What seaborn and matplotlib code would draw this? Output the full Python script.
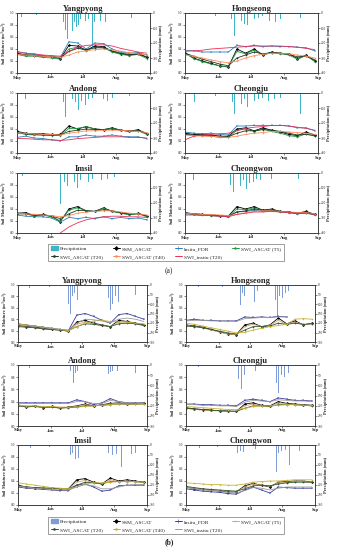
import numpy as np
import pandas as pd
import matplotlib
matplotlib.use("Agg")
import matplotlib.pyplot as plt
from matplotlib.lines import Line2D
from matplotlib.patches import Patch
import seaborn as sns

nan = np.nan
STATIONS = ["Yangpyong", "Hongseong", "Andong", "Cheongju", "Imsil", "Cheongwon"]
DAYS = [0, 8, 16, 24, 32, 40, 48, 56, 64, 72, 80, 88, 96, 104, 112, 120]
MONTH_DAYS = [0, 31, 61, 92, 123]
MONTH_LABELS = ["May", "Jun", "Jul", "Aug", "Sep"]
SERIES = ["SSM_ASCAT", "Insitu_FDR", "SWI_ASCAT (T5)", "SWI_ASCAT (T20)", "SWI_ASCAT (T40)", "SWI_insitu (T20)"]

# ---------------- panel (a) ----------------
A_SSM = {
    "Yangpyong": [0.33, 0.30, 0.30, 0.28, 0.27, 0.24, 0.46, 0.45, 0.38, 0.45, 0.44, 0.36, 0.32, 0.30, 0.33, 0.26],
    "Hongseong": [0.34, 0.25, 0.20, 0.16, 0.12, 0.10, 0.40, 0.33, 0.40, 0.30, 0.35, 0.33, 0.32, 0.24, 0.30, 0.20],
    "Andong":    [0.36, 0.33, 0.32, 0.32, 0.31, 0.31, 0.45, 0.40, 0.44, 0.40, 0.39, 0.42, 0.38, 0.36, 0.39, 0.32],
    "Cheongju":  [0.33, 0.31, 0.31, 0.30, 0.28, 0.28, 0.40, 0.42, 0.37, 0.42, 0.38, 0.35, 0.31, 0.29, 0.35, 0.30],
    "Imsil":     [0.33, 0.34, 0.29, 0.31, 0.28, 0.19, 0.40, 0.44, 0.37, 0.36, 0.42, 0.36, 0.34, 0.31, 0.33, 0.28],
    "Cheongwon": [0.34, 0.32, 0.31, 0.30, 0.29, 0.28, 0.44, 0.40, 0.44, 0.38, 0.40, 0.36, 0.35, 0.33, 0.36, 0.31],
}
A_FDR = {
    "Yangpyong": [0.36, 0.33, 0.31, 0.29, 0.28, 0.26, 0.52, 0.50, 0.40, 0.50, 0.49, 0.40, 0.35, 0.33, 0.34, 0.30],
    "Hongseong": [0.38, 0.37, 0.35, 0.35, 0.35, 0.35, 0.46, 0.44, 0.46, 0.44, 0.45, 0.44, 0.44, 0.43, 0.42, 0.37],
    "Andong":    [0.26, 0.28, 0.25, 0.24, 0.22, 0.20, 0.27, 0.27, 0.30, 0.28, 0.28, 0.30, 0.28, 0.27, 0.27, 0.24],
    "Cheongju":  [0.35, 0.33, 0.32, 0.33, 0.31, 0.30, 0.45, 0.45, 0.46, 0.46, 0.46, 0.46, 0.45, 0.42, 0.42, 0.37],
    "Imsil":     [0.30, 0.28, 0.27, 0.27, 0.25, 0.18, 0.26, 0.24, 0.26, 0.24, 0.27, 0.24, 0.26, 0.24, 0.25, 0.22],
    "Cheongwon": [0.32, 0.31, 0.30, 0.29, 0.28, 0.27, 0.35, 0.36, 0.38, 0.36, 0.37, 0.35, 0.34, 0.32, 0.33, 0.30],
}
A_T5 = {
    "Yangpyong": [0.31, 0.28, 0.28, 0.26, 0.25, 0.23, 0.40, 0.43, 0.37, 0.43, 0.42, 0.35, 0.31, 0.29, 0.31, 0.24],
    "Hongseong": [0.33, 0.24, 0.19, 0.15, 0.12, 0.10, 0.36, 0.32, 0.38, 0.30, 0.34, 0.32, 0.30, 0.23, 0.29, 0.19],
    "Andong":    [0.34, 0.31, 0.30, 0.30, 0.29, 0.29, 0.41, 0.41, 0.44, 0.40, 0.39, 0.41, 0.38, 0.36, 0.37, 0.31],
    "Cheongju":  [0.31, 0.29, 0.29, 0.28, 0.26, 0.26, 0.38, 0.40, 0.36, 0.40, 0.36, 0.33, 0.29, 0.27, 0.32, 0.28],
    "Imsil":     [0.32, 0.32, 0.28, 0.30, 0.27, 0.20, 0.38, 0.42, 0.37, 0.36, 0.41, 0.36, 0.33, 0.30, 0.32, 0.27],
    "Cheongwon": [0.33, 0.31, 0.30, 0.29, 0.28, 0.27, 0.40, 0.39, 0.42, 0.37, 0.39, 0.35, 0.34, 0.32, 0.35, 0.30],
}
A_T20 = {
    "Yangpyong": [0.32, 0.30, 0.29, 0.28, 0.27, 0.25, 0.36, 0.41, 0.39, 0.42, 0.42, 0.37, 0.33, 0.31, 0.31, 0.27],
    "Hongseong": [0.33, 0.28, 0.23, 0.19, 0.15, 0.12, 0.25, 0.30, 0.35, 0.32, 0.34, 0.33, 0.31, 0.27, 0.28, 0.22],
    "Andong":    [0.33, 0.32, 0.31, 0.30, 0.30, 0.30, 0.36, 0.38, 0.40, 0.39, 0.39, 0.40, 0.38, 0.37, 0.37, 0.33],
    "Cheongju":  [0.31, 0.30, 0.30, 0.29, 0.28, 0.27, 0.33, 0.37, 0.37, 0.39, 0.38, 0.36, 0.33, 0.30, 0.31, 0.29],
    "Imsil":     [0.32, 0.32, 0.30, 0.30, 0.28, 0.24, 0.32, 0.38, 0.37, 0.36, 0.39, 0.37, 0.34, 0.32, 0.32, 0.29],
    "Cheongwon": [0.33, 0.32, 0.31, 0.30, 0.29, 0.28, 0.35, 0.37, 0.40, 0.38, 0.38, 0.36, 0.35, 0.33, 0.34, 0.31],
}
A_T40 = {
    "Yangpyong": [0.31, 0.30, 0.29, 0.28, 0.27, 0.26, 0.30, 0.35, 0.37, 0.39, 0.40, 0.39, 0.36, 0.34, 0.32, 0.30],
    "Hongseong": [0.30, 0.28, 0.25, 0.22, 0.19, 0.17, 0.20, 0.25, 0.29, 0.31, 0.33, 0.33, 0.32, 0.30, 0.28, 0.25],
    "Andong":    [0.33, 0.33, 0.32, 0.31, 0.31, 0.30, 0.33, 0.35, 0.37, 0.37, 0.38, 0.38, 0.38, 0.37, 0.36, 0.34],
    "Cheongju":  [0.30, 0.29, 0.28, 0.28, 0.27, 0.26, 0.28, 0.31, 0.33, 0.34, 0.36, 0.36, 0.35, 0.34, 0.33, 0.31],
    "Imsil":     [0.33, 0.32, 0.31, 0.30, 0.29, 0.27, 0.29, 0.33, 0.35, 0.36, 0.37, 0.37, 0.35, 0.33, 0.32, 0.30],
    "Cheongwon": [0.33, 0.32, 0.31, 0.31, 0.30, 0.29, 0.31, 0.34, 0.36, 0.37, 0.37, 0.36, 0.35, 0.34, 0.34, 0.32],
}
A_INSITU = {
    "Yangpyong": [0.34, 0.33, 0.32, 0.30, 0.29, 0.28, 0.36, 0.43, 0.46, 0.47, 0.47, 0.45, 0.41, 0.38, 0.35, 0.33],
    "Hongseong": [0.36, 0.37, 0.38, 0.40, 0.41, 0.42, 0.43, 0.44, 0.45, 0.45, 0.45, 0.45, 0.44, 0.43, 0.41, 0.39],
    "Andong":    [0.24, 0.24, 0.23, 0.22, 0.22, 0.21, 0.22, 0.24, 0.25, 0.26, 0.27, 0.27, 0.27, 0.26, 0.26, 0.25],
    "Cheongju":  [0.22, 0.28, 0.30, 0.31, 0.32, 0.33, 0.37, 0.41, 0.43, 0.44, 0.46, 0.46, 0.45, 0.43, 0.41, 0.38],
    "Imsil":     [nan, nan, nan, nan, nan, 0.00, 0.10, 0.17, 0.22, 0.25, 0.27, 0.28, 0.28, 0.27, 0.27, 0.26],
    "Cheongwon": [0.30, 0.30, 0.29, 0.29, 0.28, 0.27, 0.31, 0.33, 0.35, 0.35, 0.36, 0.35, 0.34, 0.33, 0.33, 0.31],
}
A_RAIN_DAY = {
    "Yangpyong": [4, 18, 43, 45, 47, 49, 51, 53, 55, 57, 59, 61, 63, 66, 70, 72, 74, 77, 82, 85, 106, 112],
    "Hongseong": [11, 28, 43, 46, 49, 52, 55, 58, 61, 64, 68, 72, 78, 84, 88, 107],
    "Andong":    [8, 25, 43, 45, 48, 51, 54, 57, 60, 63, 66, 70, 75, 80, 84, 88, 104],
    "Cheongju":  [9, 28, 44, 46, 49, 52, 55, 58, 61, 64, 68, 72, 77, 83, 88, 107],
    "Imsil":     [5, 13, 40, 44, 47, 50, 53, 56, 59, 62, 66, 70, 74, 78, 84, 90],
    "Cheongwon": [8, 26, 42, 45, 48, 51, 54, 57, 60, 63, 66, 70, 75, 80, 86, 105],
}
A_RAIN_MM = {
    "Yangpyong": [25, 10, 60, 110, 170, 90, 120, 60, 95, 80, 40, 70, 50, 40, 227, 60, 80, 50, 60, 40, 35, 20],
    "Hongseong": [75, 20, 40, 150, 60, 50, 70, 80, 60, 40, 30, 20, 50, 60, 40, 30],
    "Andong":    [40, 20, 60, 160, 70, 40, 60, 110, 50, 80, 40, 30, 60, 40, 50, 30, 20],
    "Cheongju":  [60, 20, 60, 140, 50, 70, 40, 90, 60, 50, 40, 30, 50, 40, 30, 140],
    "Imsil":     [20, 30, 210, 60, 90, 120, 60, 100, 50, 80, 60, 40, 180, 50, 40, 30],
    "Cheongwon": [50, 20, 80, 130, 60, 90, 50, 110, 70, 60, 40, 50, 70, 40, 30, 40],
}

# ---------------- panel (b) ----------------
B_SSM = {
    "Yangpyong": [0.29, 0.27, 0.26, 0.24, 0.22, 0.21, 0.19, 0.35, 0.38, 0.33, 0.30, 0.27, 0.38, 0.36, 0.33, 0.30],
    "Hongseong": [0.30, 0.28, 0.26, 0.22, 0.18, 0.14, 0.13, 0.30, 0.33, 0.27, 0.30, 0.42, 0.32, 0.37, 0.30, 0.33],
    "Andong":    [0.34, 0.31, 0.33, 0.30, 0.32, 0.29, 0.31, 0.33, 0.36, 0.33, 0.35, 0.37, 0.38, 0.36, 0.37, 0.38],
    "Cheongju":  [0.30, 0.28, 0.27, 0.26, 0.25, 0.24, 0.24, 0.36, 0.38, 0.34, 0.33, 0.40, 0.37, 0.36, 0.35, 0.34],
    "Imsil":     [0.33, 0.30, 0.29, 0.28, 0.28, 0.27, 0.27, 0.42, 0.44, 0.38, 0.35, 0.45, 0.40, 0.42, 0.40, 0.38],
    "Cheongwon": [0.30, 0.27, 0.26, 0.25, 0.23, 0.22, 0.22, 0.32, 0.36, 0.33, 0.30, 0.38, 0.39, 0.40, 0.40, 0.38],
}
B_FDR = {
    "Yangpyong": [0.32, 0.30, 0.28, 0.26, 0.24, 0.22, 0.20, 0.47, 0.50, 0.45, 0.38, 0.33, 0.48, 0.50, 0.45, 0.40],
    "Hongseong": [0.38, 0.40, 0.38, 0.38, 0.37, 0.37, 0.37, 0.44, 0.43, 0.44, 0.43, 0.45, 0.44, nan, nan, nan],
    "Andong":    [0.38, 0.38, 0.38, 0.38, 0.38, 0.38, 0.38, 0.43, 0.40, 0.35, 0.38, 0.45, 0.40, 0.38, 0.38, 0.37],
    "Cheongju":  [0.36, 0.36, 0.35, 0.35, 0.34, 0.34, 0.33, 0.42, 0.44, 0.42, 0.40, 0.46, 0.44, 0.42, 0.42, 0.41],
    "Imsil":     [0.30, 0.28, 0.27, 0.26, 0.25, 0.24, 0.24, 0.33, 0.35, 0.30, 0.23, 0.25, 0.32, 0.33, 0.33, 0.33],
    "Cheongwon": [0.27, 0.25, 0.23, 0.22, 0.21, 0.19, 0.18, 0.25, 0.30, 0.25, 0.20, 0.30, 0.29, 0.28, 0.28, 0.28],
}
B_T5 = {
    "Yangpyong": [0.28, 0.26, 0.25, 0.23, 0.22, 0.21, 0.19, 0.31, 0.35, 0.32, 0.29, 0.27, 0.35, 0.35, 0.32, 0.29],
    "Hongseong": [0.29, 0.27, 0.25, 0.21, 0.17, 0.14, 0.13, 0.27, 0.31, 0.27, 0.29, 0.38, 0.31, 0.35, 0.30, 0.32],
    "Andong":    [0.33, 0.31, 0.32, 0.30, 0.31, 0.29, 0.30, 0.32, 0.35, 0.33, 0.34, 0.36, 0.37, 0.36, 0.36, 0.37],
    "Cheongju":  [0.29, 0.27, 0.26, 0.25, 0.25, 0.24, 0.24, 0.33, 0.36, 0.33, 0.32, 0.38, 0.36, 0.35, 0.34, 0.33],
    "Imsil":     [0.32, 0.29, 0.28, 0.28, 0.27, 0.27, 0.27, 0.38, 0.41, 0.37, 0.35, 0.42, 0.39, 0.40, 0.39, 0.37],
    "Cheongwon": [0.30, 0.28, 0.26, 0.25, 0.24, 0.23, 0.22, 0.30, 0.35, 0.33, 0.31, 0.37, 0.38, 0.39, 0.39, 0.38],
}
B_T20 = {
    "Yangpyong": [0.27, 0.26, 0.25, 0.23, 0.22, 0.21, 0.20, 0.27, 0.32, 0.31, 0.29, 0.27, 0.32, 0.33, 0.32, 0.29],
    "Hongseong": [0.28, 0.27, 0.25, 0.22, 0.19, 0.16, 0.14, 0.21, 0.27, 0.27, 0.28, 0.33, 0.31, 0.33, 0.31, 0.32],
    "Andong":    [0.33, 0.32, 0.32, 0.31, 0.31, 0.30, 0.30, 0.31, 0.33, 0.33, 0.34, 0.35, 0.36, 0.36, 0.36, 0.36],
    "Cheongju":  [0.29, 0.28, 0.27, 0.26, 0.25, 0.25, 0.24, 0.29, 0.33, 0.33, 0.32, 0.35, 0.35, 0.35, 0.34, 0.33],
    "Imsil":     [0.32, 0.30, 0.29, 0.28, 0.28, 0.27, 0.27, 0.33, 0.38, 0.37, 0.35, 0.39, 0.39, 0.39, 0.39, 0.38],
    "Cheongwon": [0.31, 0.29, 0.27, 0.26, 0.25, 0.24, 0.23, 0.27, 0.32, 0.33, 0.32, 0.35, 0.37, 0.38, 0.38, 0.38],
}
B_T40 = {
    "Yangpyong": [0.31, 0.30, 0.28, 0.26, 0.24, 0.22, 0.20, 0.27, 0.33, 0.37, 0.38, 0.36, 0.35, 0.35, 0.33, 0.32],
    "Hongseong": [0.33, 0.31, 0.28, 0.25, 0.22, 0.19, 0.16, 0.17, 0.21, 0.24, 0.27, 0.29, 0.31, 0.40, 0.41, 0.40],
    "Andong":    [0.34, 0.33, 0.33, 0.32, 0.32, 0.31, 0.31, 0.31, 0.32, 0.33, 0.34, 0.35, 0.36, 0.36, 0.36, 0.36],
    "Cheongju":  [0.32, 0.31, 0.30, 0.29, 0.28, 0.27, 0.27, 0.29, 0.32, 0.33, 0.33, 0.34, 0.35, 0.35, 0.34, 0.34],
    "Imsil":     [0.37, 0.35, 0.33, 0.31, 0.29, 0.28, 0.27, 0.30, 0.35, 0.37, 0.37, 0.38, 0.39, 0.39, 0.39, 0.38],
    "Cheongwon": [0.37, 0.36, 0.35, 0.34, 0.34, 0.33, 0.33, 0.35, 0.38, 0.39, 0.40, 0.40, 0.41, 0.42, 0.42, 0.42],
}
B_INSITU = {
    "Yangpyong": [0.30, 0.29, 0.28, 0.26, 0.24, 0.22, 0.21, 0.33, 0.40, 0.39, 0.37, 0.34, 0.40, 0.42, 0.40, 0.36],
    "Hongseong": [0.37, 0.38, 0.38, 0.37, 0.37, 0.37, 0.36, 0.41, 0.42, 0.43, 0.43, 0.44, 0.44, nan, nan, nan],
    "Andong":    [0.37, 0.37, 0.37, 0.37, 0.37, 0.37, 0.37, 0.40, 0.40, 0.37, 0.37, 0.42, 0.40, 0.38, 0.38, 0.37],
    "Cheongju":  [0.35, 0.35, 0.34, 0.34, 0.33, 0.33, 0.32, 0.39, 0.42, 0.41, 0.40, 0.43, 0.42, 0.41, 0.41, 0.40],
    "Imsil":     [0.31, 0.30, 0.28, 0.27, 0.26, 0.25, 0.25, 0.30, 0.34, 0.32, 0.27, 0.27, 0.30, 0.33, 0.34, 0.34],
    "Cheongwon": [0.29, 0.27, 0.25, 0.24, 0.23, 0.21, 0.20, 0.24, 0.29, 0.28, 0.25, 0.28, 0.30, 0.30, 0.30, 0.30],
}
B_RAIN_DAY = {
    "Yangpyong": [11, 30, 48, 50, 52, 54, 57, 60, 63, 84, 86, 88, 90, 93, 96, 100, 104, 112],
    "Hongseong": [12, 35, 52, 54, 56, 59, 62, 65, 68, 80, 85, 87, 89, 92, 95, 98],
    "Andong":    [11, 50, 53, 55, 57, 60, 84, 86, 88, 90, 95, 100, 105, 112],
    "Cheongju":  [12, 50, 53, 56, 59, 62, 66, 84, 86, 88, 91, 94, 98, 104],
    "Imsil":     [12, 30, 50, 52, 55, 58, 61, 84, 86, 90, 94, 99, 103, 108, 112],
    "Cheongwon": [13, 30, 49, 52, 55, 59, 63, 66, 84, 86, 88, 91, 95, 99, 103, 108],
}
B_RAIN_MM = {
    "Yangpyong": [15, 10, 100, 150, 60, 40, 80, 60, 70, 105, 70, 132, 100, 60, 90, 50, 80, 53],
    "Hongseong": [10, 8, 105, 40, 60, 80, 50, 90, 30, 20, 80, 167, 60, 70, 40, 30],
    "Andong":    [15, 30, 90, 40, 30, 20, 40, 45, 35, 30, 30, 25, 20, 40],
    "Cheongju":  [10, 70, 120, 50, 80, 40, 30, 60, 90, 140, 50, 60, 40, 30],
    "Imsil":     [15, 10, 50, 40, 70, 67, 40, 65, 40, 50, 45, 108, 40, 45, 40],
    "Cheongwon": [15, 8, 40, 30, 35, 25, 35, 20, 45, 133, 40, 30, 25, 100, 60, 30],
}

# ---------------- styling ----------------
STYLE_A = {
    "rain": "#3DB5C6",
    "SSM_ASCAT": ("#000000", "D", 1.3),
    "Insitu_FDR": ("#2C7DB8", "+", 1.6),
    "SWI_ASCAT (T5)": ("#1E9A3C", "o", 0.8),
    "SWI_ASCAT (T20)": ("#1F3A24", "o", 0.9),
    "SWI_ASCAT (T40)": ("#FF8A5C", "s", 0.7),
    "SWI_insitu (T20)": ("#E8305A", None, 0),
}
STYLE_B = {
    "rain": "#7E9CD6",
    "SSM_ASCAT": ("#000000", "D", 1.3),
    "Insitu_FDR": ("#3B3B9C", "+", 1.6),
    "SWI_ASCAT (T5)": ("#D6A77A", "+", 1.2),
    "SWI_ASCAT (T20)": ("#2E5530", "o", 0.9),
    "SWI_ASCAT (T40)": ("#C9B238", "s", 0.7),
    "SWI_insitu (T20)": ("#9A9A9A", None, 0),
}

sns.set_theme(style="ticks")
plt.rcParams["font.family"] = ["Liberation Serif", "DejaVu Serif"]
plt.rcParams["axes.linewidth"] = 0.5

W, H = 338, 550
fig = plt.figure(figsize=(W / 100, H / 100), dpi=100)


def add_ax(x0, x1, ytop, ybot):
    return fig.add_axes([x0 / W, 1 - ybot / H, (x1 - x0) / W, (ybot - ytop) / H])


def draw_panel(axes_boxes, data, rain_day, rain_mm, style, rain_max, rain_ticks):
    for st, (x0, x1, yt, yb) in zip(STATIONS, axes_boxes):
        ax = add_ax(x0, x1, yt, yb)
        ax2 = ax.twinx()
        ax2.bar(rain_day[st], rain_mm[st], width=0.7, color=style["rain"], linewidth=0)
        ax2.set_ylim(rain_max, 0)
        ax2.set_yticks(rain_ticks)
        ax2.set_yticklabels([str(t) for t in rain_ticks], fontsize=2.5)
        ax2.set_ylabel("Precipitation (mm)", fontsize=3.2, fontweight="bold", labelpad=0.8)
        ax2.tick_params(axis="y", length=1.2, width=0.4, pad=0.6)
        ax.set_zorder(ax2.get_zorder() + 1)
        ax.patch.set_visible(False)
        for name in SERIES:
            col, mk, ms = style[name]
            vals = data[name][st]
            sns.lineplot(x=DAYS, y=vals, ax=ax, color=col, linewidth=0.6,
                         marker=mk, markersize=ms, markeredgewidth=0.3,
                         markeredgecolor=col, legend=False)
        ax.set_xlim(0, 123)
        ax.set_ylim(0, 1.0)
        ax.set_yticks([0, 0.2, 0.4, 0.6, 0.8, 1.0])
        ax.set_yticklabels(["0.0", "0.2", "0.4", "0.6", "0.8", "1.0"], fontsize=2.5)
        ax.set_xticks(MONTH_DAYS)
        ax.set_xticklabels(MONTH_LABELS, fontsize=3.3, fontweight="bold")
        ax.set_ylabel("Soil Moisture (m$^3$/m$^3$)", fontsize=3.2, fontweight="bold", labelpad=0.3)
        ax.set_xlabel("")
        ax.tick_params(axis="both", length=1.2, width=0.4, pad=0.6)
        ax.set_title(st, fontsize=6, fontweight="bold", pad=1.5)
        for sp in list(ax.spines.values()) + list(ax2.spines.values()):
            sp.set_visible(True)
            sp.set_linewidth(0.5)
            sp.set_color("#333333")


def legend_for(style, ycenter):
    def h(name):
        col, mk, ms = style[name]
        return Line2D([], [], color=col, marker=mk, markersize=ms * 1.6, linewidth=0.7,
                      markeredgecolor=col, markeredgewidth=0.4)
    handles = [Patch(color=style["rain"]), h("SWI_ASCAT (T20)"),
               h("SSM_ASCAT"), h("SWI_ASCAT (T40)"),
               h("Insitu_FDR"), h("SWI_insitu (T20)"),
               h("SWI_ASCAT (T5)")]
    labels = ["Precipitation", "SWI_ASCAT (T20)", "SSM_ASCAT", "SWI_ASCAT (T40)",
              "Insitu_FDR", "SWI_insitu (T20)", "SWI_ASCAT (T5)"]
    lg = fig.legend(handles, labels, ncol=4, loc="center", bbox_to_anchor=(166 / W, 1 - ycenter / H),
                    fontsize=3.9, frameon=True, fancybox=False, edgecolor="#555555",
                    handlelength=1.3, handletextpad=0.4, columnspacing=1.8,
                    borderpad=0.5, labelspacing=0.5)
    lg.get_frame().set_linewidth(0.5)


A_DATA = {"SSM_ASCAT": A_SSM, "Insitu_FDR": A_FDR, "SWI_ASCAT (T5)": A_T5,
          "SWI_ASCAT (T20)": A_T20, "SWI_ASCAT (T40)": A_T40, "SWI_insitu (T20)": A_INSITU}
B_DATA = {"SSM_ASCAT": B_SSM, "Insitu_FDR": B_FDR, "SWI_ASCAT (T5)": B_T5,
          "SWI_ASCAT (T20)": B_T20, "SWI_ASCAT (T40)": B_T40, "SWI_insitu (T20)": B_INSITU}

boxes_a = [(17, 150, 13, 73), (185, 318, 13, 73),
           (17, 150, 93, 153), (185, 318, 93, 153),
           (17, 150, 173, 233), (185, 318, 173, 233)]
boxes_b = [(18, 147, 285, 342), (186, 315, 285, 342),
           (18, 147, 365, 426), (186, 315, 365, 426),
           (18, 147, 445, 505), (186, 315, 445, 505)]

draw_panel(boxes_a, A_DATA, A_RAIN_DAY, A_RAIN_MM, STYLE_A, 400, [0, 100, 200, 300, 400])
draw_panel(boxes_b, B_DATA, B_RAIN_DAY, B_RAIN_MM, STYLE_B, 300, [0, 50, 100, 150, 200, 250, 300])

legend_for(STYLE_A, 252.5)
legend_for(STYLE_B, 525.5)
fig.text(169 / W, 1 - 271 / H, "(a)", ha="center", va="center", fontsize=5.5)
fig.text(169 / W, 1 - 542 / H, "(b)", ha="center", va="center", fontsize=5.5, fontweight="bold")

fig.savefig("out.png", dpi=100, facecolor="white")
